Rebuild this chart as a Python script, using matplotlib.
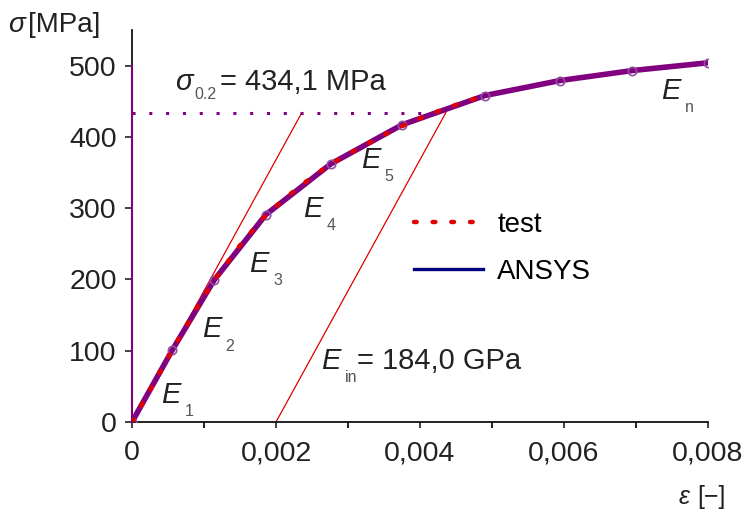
import matplotlib
matplotlib.use("Agg")
import matplotlib.pyplot as plt
import numpy as np

plt.rcParams['font.family'] = ['Liberation Sans', 'DejaVu Sans']
plt.rcParams['mathtext.fontset'] = 'custom'
plt.rcParams['mathtext.it'] = 'Liberation Sans:italic'
plt.rcParams['mathtext.rm'] = 'Liberation Sans'

# multilinear model points (E1..En segments)
model_strain = [0.0, 0.00056, 0.00114, 0.00186, 0.00276, 0.00375, 0.0049, 0.00594, 0.00694, 0.0080]
model_stress = [0, 101, 199, 291, 362, 417, 458, 479, 493, 504]

# test curve
test_strain = [0.0, 0.0003, 0.0006, 0.0009, 0.0012, 0.0015, 0.0018, 0.0021, 0.0024,
               0.0027, 0.0030, 0.0033, 0.0036, 0.0039, 0.0042, 0.0045, 0.0048]
test_stress = [0, 54, 108, 160, 207, 248, 284, 312, 336, 358, 376, 392, 408, 422, 434, 445, 455]

sigma02 = 434.1       # MPa
E_in = 184000.0       # MPa
offset = 0.002

x_ticks = [0, 0.002, 0.004, 0.006, 0.008]
x_tick_labels = ['0', '0,002', '0,004', '0,006', '0,008']
y_ticks = [0, 100, 200, 300, 400, 500]

fig = plt.figure(figsize=(7.49, 5.13), dpi=100)
ax = fig.add_axes([132/749, 1-422/513, (708-132)/749, (422-30)/513])

purple = '#800080'
red = '#E00000'
navy = '#000080'
test_style = (0, (0.6, 3.6))

# elastic and offset lines
ax.plot([0, sigma02/E_in], [0, sigma02], color=red, lw=0.9, zorder=2)
ax.plot([offset, offset + sigma02/E_in], [0, sigma02], color=red, lw=0.9, zorder=2)
# yield level dotted line
ax.plot([0, offset + sigma02/E_in], [sigma02, sigma02], color=purple, lw=2.2,
        linestyle=(0, (1, 4.5)), zorder=2)
# vertical purple line on y axis
ax.plot([0, 0], [0, 500], color=purple, lw=1.5, zorder=3, clip_on=False)

ax.plot(model_strain, model_stress, color=navy, lw=1.0, zorder=3)
ax.plot(model_strain, model_stress, color=purple, lw=4, marker='o', ms=6,
        mfc='none', mec='#9050a0', mew=1.2, zorder=4)
ax.plot(test_strain, test_stress, color=red, lw=3.2, linestyle=test_style,
        dash_capstyle='round', zorder=5)

# legend entries
h1, = ax.plot([], [], color=red, lw=3.2, linestyle=test_style, dash_capstyle='round')
h2, = ax.plot([], [], color=navy, lw=2.4)
ax.legend([h1, h2], ['test', 'ANSYS'], loc='upper left',
          bbox_to_anchor=((389-132)/576, (422-187)/392), frameon=False,
          fontsize=20, handlelength=2.5, labelspacing=0.75, handletextpad=0.5)

ax.set_xlim(0, 0.008)
ax.set_ylim(0, 550)
ax.set_xticks(x_ticks)
ax.set_xticklabels(x_tick_labels)
ax.set_xticks([0.001, 0.003, 0.005, 0.007], minor=True)
ax.set_yticks(y_ticks)
ax.tick_params(axis='both', labelsize=20.5, colors='#222222', direction='out')
ax.tick_params(axis='x', length=4, width=1.2, pad=9)
ax.tick_params(axis='x', which='minor', length=4, width=1.2)
ax.tick_params(axis='y', length=5, width=1.2, pad=6)
for s in ['top', 'right']:
    ax.spines[s].set_visible(False)
for s in ['left', 'bottom']:
    ax.spines[s].set_linewidth(1.3)
    ax.spines[s].set_color('#111111')

tc = '#222222'
fig.text(8/749, 1-25/513, r'$\sigma$', fontsize=20, color=tc, va='center', ha='left')
fig.text(28/749, 1-25/513, '[MPa]', fontsize=20, color=tc, va='center', ha='left')
fig.text(678/749, 1-497/513, r'$\varepsilon$', fontsize=18, color=tc, va='center', ha='left')
fig.text(697/749, 1-497/513, '[−]', fontsize=18, color=tc, va='center', ha='left')

def elabel(x, y, sub, fs=21):
    ax.text(x, y, r'$E$', fontsize=fs, color=tc, ha='left', va='center')
    ax.annotate(sub, (x, y), xytext=(17, -12), textcoords='offset points',
                fontsize=11.5, color='#555555', ha='left', va='center')

elabel(0.00040, 38, '1')
elabel(0.00097, 130, '2')
elabel(0.00163, 222, '3')
elabel(0.00238, 299, '4')
elabel(0.00318, 368, '5')
elabel(0.00735, 465, 'n')
elabel(0.00263, 86, 'in')
ax.text(0.00313, 86, '= 184,0 GPa', fontsize=21, color=tc, ha='left', va='center')

ax.text(0.00060, 477, r'$\sigma$', fontsize=21, color=tc, ha='left', va='center')
ax.text(0.00087, 459, '0.2', fontsize=11.5, color='#555555', ha='left', va='center')
ax.text(0.00122, 477, '= 434,1 MPa', fontsize=21, color=tc, ha='left', va='center')

fig.savefig('out.png', dpi=100)
